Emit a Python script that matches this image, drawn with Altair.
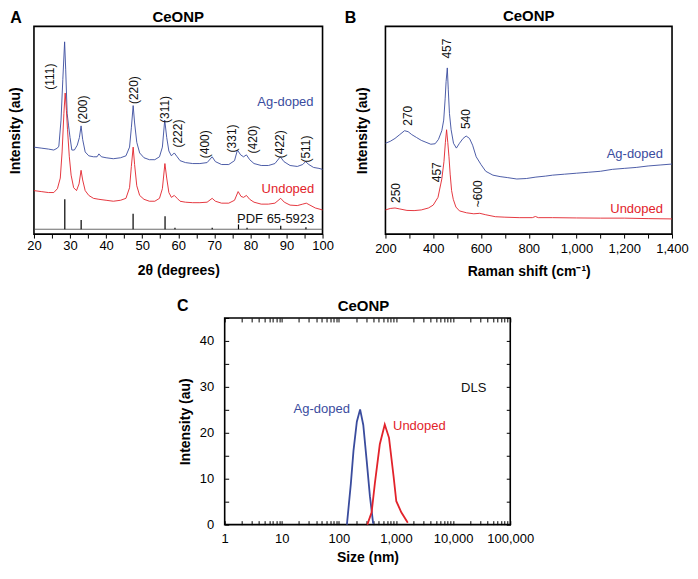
import altair as alt
import pandas as pd

FONT = "Liberation Sans"
BLUE = "#3a4c9e"
RED = "#e2232b"

# ---------------- Panel A : XRD ----------------
xrd_ag_2theta = [20, 22, 24, 25.5, 26.5, 26.9, 27.5, 28.0, 28.5, 28.8, 29.2, 29.6, 30.0, 30.5, 31.2,
                 32.0, 32.6, 33.06, 33.5, 34.2, 35.2, 36.5, 37.5, 38.0, 38.7, 40, 42, 44, 45.5, 46.5,
                 47.0, 47.5, 47.9, 48.5, 49.3, 50.5, 52, 53.5, 54.8, 55.6, 56.25, 56.8, 57.4, 58.1, 58.9,
                 59.7, 60.5, 62, 64, 66, 68, 69.4, 70.3, 72, 74, 75.6, 76.4, 77.3, 78.1, 78.9,
                 79.8, 81, 83, 85, 86.8, 88.3, 89.3, 91, 93, 94.5, 95.3, 96.2, 97.5, 99, 100]
xrd_ag_int = [90, 89, 88, 87, 89, 91, 118, 160, 199, 170, 125, 112, 100, 87, 87,
              92, 100, 112, 98, 85, 81, 80, 80, 83, 80, 79, 78, 79, 81, 90,
              110, 133, 115, 95, 84, 79, 77, 77, 80, 90, 118, 100, 86, 81, 84,
              80, 76, 74, 73, 73, 74, 80, 75, 72, 72, 76, 87, 82, 80, 82,
              77, 73, 71, 71, 73, 80, 75, 71, 70, 72, 75, 72, 69, 68, 67]

xrd_un_2theta = [20, 22, 24, 25.5, 26.5, 27.3, 27.8, 28.3, 28.65, 29.0, 29.3, 29.8, 30.3, 31.0, 31.8,
                 32.5, 33.06, 33.5, 34.2, 35.2, 36.5, 38, 40, 42, 44, 45.5, 46.5, 47.0, 47.5, 47.9,
                 48.5, 49.3, 50.5, 52, 53.5, 54.8, 55.6, 56.3, 56.8, 57.4, 58.1, 58.9, 59.7, 60.5, 62,
                 64, 66, 68, 69.4, 70.3, 72, 74, 75.6, 76.6, 77.4, 78.1, 78.9, 79.8, 81, 83,
                 85, 86.8, 88.4, 89.4, 91, 93, 94.5, 95.5, 96.5, 98, 100]
xrd_un_int = [45, 44, 43, 43, 47, 58, 85, 125, 146, 128, 108, 80, 61, 48, 45,
              52, 66, 56, 45, 40, 37, 36, 35, 34, 35, 37, 48, 70, 90, 72,
              50, 40, 36, 34, 34, 37, 47, 73, 58, 43, 38, 40, 37, 34, 33,
              32.5, 32.5, 33, 37, 34, 32, 32, 35, 44, 39, 38, 40, 36, 33, 31,
              31, 32, 37, 33, 30, 29.5, 31, 32, 30, 27, 25]

pdf_2theta = [28.55, 33.08, 47.48, 56.34, 59.09, 69.41, 76.70, 79.07, 88.41, 95.40]
pdf_top = [36, 14.5, 21, 18.5, 6.5, 6.5, 10, 6.5, 8.5, 7]
pdf_base = 5

hkl_labels = ["(111)", "(200)", "(220)", "(311)", "(222)", "(400)", "(331)", "(420)", "(422)", "(511)"]
hkl_x = [24.5, 33.6, 47.7, 56.3, 59.9, 67.3, 75.0, 80.7, 88.2, 95.5]
hkl_y = [163, 129, 149, 129, 104, 93, 99, 98, 93, 88]

a_text = ["Ag-doped", "Undoped", "PDF 65-5923"]
a_text_x = [97.5, 97.7, 97.7]
a_text_y = [136.7, 47, 16]
a_text_color = [BLUE, RED, "#111111"]

# ---------------- Panel B : Raman ----------------
raman_ag_x = [200, 220, 240, 260, 280, 295, 310, 330, 350, 370, 390, 408, 422, 436, 444,
              450, 454, 459, 463, 468, 475, 485, 497, 510, 525, 538, 552, 565, 580, 600,
              620, 650, 680, 710, 750, 790, 830, 870, 900, 950, 1000, 1050, 1100, 1150, 1200,
              1250, 1300, 1350, 1400]
raman_ag_y = [94, 96, 99, 103, 107, 106, 103, 100, 97, 95, 93, 93.5, 98, 107, 118,
              140, 158, 172, 150, 125, 108, 94, 89, 94, 99, 101.5, 99, 92, 80, 72,
              65, 61, 59.5, 58.5, 57, 57.5, 59, 60, 61, 62, 63, 64, 65, 67, 68,
              69, 70.5, 71.5, 72.5]

raman_un_x = [200, 220, 240, 260, 290, 320, 350, 380, 400, 420, 436, 445, 451, 456, 461,
              466, 471, 477, 484, 495, 510, 540, 570, 595, 620, 660, 700, 760, 815, 828,
              840, 900, 1000, 1100, 1200, 1300, 1400]
raman_un_y = [25, 26.5, 27, 26, 24.5, 24.3, 25, 27, 30, 38, 57, 75, 95, 108, 95,
              80, 62, 45, 36, 28, 24, 22, 21, 21.5, 20, 18, 17.5, 17, 17, 18.2,
              17, 17, 16.7, 16.5, 16.5, 16, 15.7]

b_peak_labels = ["270", "457", "540", "457", "250", "~600"]
b_peak_x = [293, 457, 539, 416, 245, 586]
b_peak_y = [122.5, 192, 119, 64, 42.5, 41.7]

b_text = ["Ag-doped", "Undoped"]
b_text_x = [1362, 1362]
b_text_y = [83.3, 25.7]
b_text_color = [BLUE, RED]

# ---------------- Panel C : DLS ----------------
dls_ag_size = [138, 162, 180, 206, 235, 267, 306, 349, 398]
dls_ag_int = [0, 9.0, 16.1, 22.4, 25.1, 21.7, 14.0, 6.2, 0.2]
dls_un_size = [314, 374, 426, 520, 635, 754, 908, 1011, 1236, 1607]
dls_un_int = [0, 2.7, 9.0, 17.5, 21.8, 18.9, 10.4, 5.1, 2.7, 0.4]

c_text = ["Ag-doped", "Undoped", "DLS"]
c_text_x = [50, 2560, 22900]
c_text_y = [25.2, 21.4, 29.8]
c_text_color = [BLUE, RED, "#111111"]

c_xticks = [k * 10 ** d for d in range(5) for k in range(1, 10)] + [100000]
c_yticks = [0, 5, 10, 15, 20, 25, 30, 35, 40, 45]

series_color = alt.Color("s:N", scale=alt.Scale(domain=["Ag-doped", "Undoped"], range=[BLUE, RED]),
                         legend=None)

WA, WB, HT = 289, 287, 208
WC, HC = 286, 207


def header(title, letter, tx, ty, lx, ly):
    t = alt.Chart(pd.DataFrame({"t": [title]})).mark_text(
        font=FONT, fontSize=15, fontWeight="bold", color="black", baseline="middle"
    ).encode(text="t:N", x=alt.value(tx), y=alt.value(ty))
    l = alt.Chart(pd.DataFrame({"t": [letter]})).mark_text(
        font=FONT, fontSize=16, fontWeight="bold", color="black", baseline="middle"
    ).encode(text="t:N", x=alt.value(lx), y=alt.value(ly))
    return [t, l]


# ---- A ----
xsA = alt.Scale(domain=[20, 100], nice=False, zero=False)
ysA = alt.Scale(domain=[0, 215], nice=False, zero=False)
dfA = pd.concat([
    pd.DataFrame({"x": xrd_ag_2theta, "y": xrd_ag_int, "s": "Ag-doped"}),
    pd.DataFrame({"x": xrd_un_2theta, "y": xrd_un_int, "s": "Undoped"}),
])
lineA = alt.Chart(dfA).mark_line(strokeWidth=0.9).encode(
    x=alt.X("x:Q", scale=xsA, axis=alt.Axis(
        values=list(range(20, 101, 5)),
        labelExpr="datum.value % 10 == 0 ? datum.label : ''",
        tickSize=4, labelPadding=1, labelFlush=False, labelOverlap=False,
        title="2θ (degrees)", titleY=36, titleBaseline="middle")),
    y=alt.Y("y:Q", scale=ysA, axis=alt.Axis(
        title="Intensity (au)", ticks=False, labels=False, titleX=-18, titleBaseline="middle")),
    color=series_color,
)
pdf_df = pd.DataFrame({"x": pdf_2theta, "top": pdf_top, "base": [pdf_base] * len(pdf_2theta)})
sticks = alt.Chart(pdf_df).mark_rule(color="black", strokeWidth=1.2).encode(
    x=alt.X("x:Q", scale=xsA, axis=None), y=alt.Y("top:Q", scale=ysA, axis=None), y2="base:Q")
baseA = alt.Chart(pd.DataFrame({"y": [pdf_base]})).mark_rule(color="#444444", strokeWidth=0.8).encode(
    y=alt.Y("y:Q", scale=ysA, axis=None))
hklA = alt.Chart(pd.DataFrame({"x": hkl_x, "y": hkl_y, "t": hkl_labels})).mark_text(
    angle=270, font=FONT, fontSize=12, color="#111111", baseline="middle").encode(
    x=alt.X("x:Q", scale=xsA, axis=None), y=alt.Y("y:Q", scale=ysA, axis=None), text="t:N")
labA = alt.Chart(pd.DataFrame({"x": a_text_x, "y": a_text_y, "t": a_text, "c": a_text_color})).mark_text(
    align="right", baseline="middle", font=FONT, fontSize=13).encode(
    x=alt.X("x:Q", scale=xsA, axis=None), y=alt.Y("y:Q", scale=ysA, axis=None), text="t:N",
    color=alt.Color("c:N", scale=None))
A = alt.layer(lineA, baseA, sticks, hklA, labA, *header("CeONP", "A", WA / 2, -9, -18, -8)).resolve_axis(
    x="independent", y="independent").properties(width=WA, height=HT)

# ---- B ----
xsB = alt.Scale(domain=[200, 1400], nice=False, zero=False)
ysB = alt.Scale(domain=[0, 215], nice=False, zero=False)
dfB = pd.concat([
    pd.DataFrame({"x": raman_ag_x, "y": raman_ag_y, "s": "Ag-doped"}),
    pd.DataFrame({"x": raman_un_x, "y": raman_un_y, "s": "Undoped"}),
])
lineB = alt.Chart(dfB).mark_line(strokeWidth=0.9).encode(
    x=alt.X("x:Q", scale=xsB, axis=alt.Axis(
        values=list(range(200, 1401, 100)),
        labelExpr="datum.value % 200 == 0 ? format(datum.value, ',') : ''",
        tickSize=4, labelPadding=4, labelFlush=False, labelOverlap=False,
        title="Raman shift (cm\u207b\u00b9)", titleY=37, titleBaseline="middle")),
    y=alt.Y("y:Q", scale=ysB, axis=alt.Axis(
        title="Intensity (au)", ticks=False, labels=False, titleX=-23, titleBaseline="middle")),
    color=series_color,
)
pkB = alt.Chart(pd.DataFrame({"x": b_peak_x, "y": b_peak_y, "t": b_peak_labels})).mark_text(
    angle=270, font=FONT, fontSize=12, color="#111111", baseline="middle").encode(
    x=alt.X("x:Q", scale=xsB, axis=None), y=alt.Y("y:Q", scale=ysB, axis=None), text="t:N")
labB = alt.Chart(pd.DataFrame({"x": b_text_x, "y": b_text_y, "t": b_text, "c": b_text_color})).mark_text(
    align="right", baseline="middle", font=FONT, fontSize=13).encode(
    x=alt.X("x:Q", scale=xsB, axis=None), y=alt.Y("y:Q", scale=ysB, axis=None), text="t:N",
    color=alt.Color("c:N", scale=None))
B = alt.layer(lineB, pkB, labB, *header("CeONP", "B", WB / 2, -10, -35, -8)).resolve_axis(
    x="independent", y="independent").properties(width=WB, height=HT)

# ---- C ----
xsC = alt.Scale(type="log", domain=[1, 100000], nice=False)
ysC = alt.Scale(domain=[0, 45], nice=False, zero=False)
dfC = pd.concat([
    pd.DataFrame({"x": dls_ag_size, "y": dls_ag_int, "s": "Ag-doped"}),
    pd.DataFrame({"x": dls_un_size, "y": dls_un_int, "s": "Undoped"}),
])
pow_expr = "indexof([1,10,100,1000,10000,100000], datum.value) >= 0 ? format(datum.value, ',') : ''"
lineC = alt.Chart(dfC).mark_line(strokeWidth=1.8).encode(
    x=alt.X("x:Q", scale=xsC, axis=alt.Axis(
        orient="bottom", values=c_xticks, labelExpr=pow_expr, tickSize=4, offset=-4,
        labelPadding=8, labelFlush=False, labelOverlap=False,
        title="Size (nm)", titleY=37, titleBaseline="middle")),
    y=alt.Y("y:Q", scale=ysC, axis=alt.Axis(
        orient="left", values=c_yticks, labelExpr="datum.value % 10 == 0 ? datum.label : ''",
        tickSize=4, offset=-4, labelPadding=11, labelOverlap=False,
        title="Intensity (au)", titleX=-43.5, titleBaseline="middle")),
    color=series_color,
)
mirrorC = alt.Chart(dfC).mark_point(opacity=0).encode(
    x=alt.X("x:Q", scale=xsC, axis=alt.Axis(
        orient="top", values=c_xticks, labels=False, tickSize=4, offset=-4, title=None)),
    y=alt.Y("y:Q", scale=ysC, axis=alt.Axis(
        orient="right", values=c_yticks, labels=False, tickSize=4, offset=-4, title=None)),
)
labC = alt.Chart(pd.DataFrame({"x": c_text_x, "y": c_text_y, "t": c_text, "c": c_text_color})).mark_text(
    align="center", baseline="middle", font=FONT, fontSize=13).encode(
    x=alt.X("x:Q", scale=xsC, axis=None), y=alt.Y("y:Q", scale=ysC, axis=None), text="t:N",
    color=alt.Color("c:N", scale=None))
C = alt.layer(lineC, mirrorC, labC, *header("CeONP", "C", 139, -11.5, -42, -12)).resolve_axis(
    x="independent", y="independent").properties(width=WC, height=HC)

spacer = alt.Chart(pd.DataFrame({"a": [0]})).mark_point(opacity=0).encode(
    x=alt.X("a:Q", axis=None), y=alt.Y("a:Q", axis=None)).properties(
    width=171, height=20, view=alt.ViewBackground(strokeOpacity=0))

row1 = alt.hconcat(A, B, spacing=63, bounds="flush")
row2 = alt.hconcat(spacer, C, spacing=20, bounds="flush")

# with flush bounds the nested row counts as zero height, so the spacing
# is measured from the top of the first row
chart = alt.vconcat(row1, row2, spacing=HT + 84, bounds="flush").properties(
    padding={"left": 0, "top": 0, "right": 0, "bottom": 0}
).configure(font=FONT).configure_view(
    stroke="black", strokeWidth=1.6
).configure_axis(
    labelFont=FONT, titleFont=FONT, labelFontSize=13, titleFontSize=14, titleFontWeight="bold",
    labelColor="black", titleColor="black", tickColor="black", tickWidth=1,
    grid=False, domain=False
)

chart.save("out.html", embed_options={"renderer": "svg", "actions": False})
